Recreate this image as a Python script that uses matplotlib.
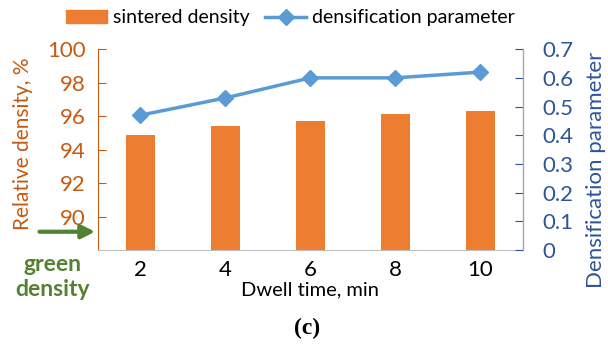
import numpy as np
import matplotlib.pyplot as plt
from matplotlib.lines import Line2D
from matplotlib.patches import Patch

dwell = ["2", "4", "6", "8", "10"]
sintered_density = [94.9, 95.4, 95.7, 96.1, 96.3]
densification = [0.47, 0.53, 0.60, 0.60, 0.62]
green_density = 89.1

orange = "#ED7D31"
orange_txt = "#C55A11"
blue_line = "#5B9BD5"
blue_txt = "#2F5597"
green = "#548235"

plt.rcParams["font.family"] = ["Lato", "DejaVu Sans"]

fig = plt.figure(figsize=(6.08, 3.46), dpi=100)
ax = fig.add_axes([0.161, 0.277, 0.699, 0.581])
x = np.arange(len(dwell))

ax.bar(x, sintered_density, width=0.34, color=orange, zorder=2)
ax.set_ylim(88, 100)
ax.set_yticks([90, 92, 94, 96, 98, 100])
ax.set_xlim(-0.5, 4.5)
ax.set_xticks(x)
ax.set_xticklabels(dwell)
ax.tick_params(axis="x", length=0, labelsize=16, pad=7)
ax.tick_params(axis="y", direction="in", length=6, colors=orange_txt,
               labelsize=16, pad=9)
ax.set_ylabel("Relative density, %", color=orange_txt, fontsize=15)
ax.yaxis.set_label_coords(-0.152, 0.527)
ax.set_xlabel("Dwell time, min", fontsize=14.5, labelpad=1)
ax.spines["top"].set_visible(False)
ax.spines["left"].set_color(orange_txt)
ax.spines["bottom"].set_color("#BFBFBF")

ax2 = ax.twinx()
ax2.plot(x, densification, color=blue_line, lw=2.5, marker="D", ms=8, zorder=3)
ax2.set_ylim(0, 0.7)
ax2.set_yticks(np.arange(0, 0.71, 0.1))
ax2.set_yticklabels(["0", "0.1", "0.2", "0.3", "0.4", "0.5", "0.6", "0.7"])
ax2.tick_params(axis="y", direction="in", length=6, colors=blue_txt,
                labelsize=16, pad=14)
ax2.set_ylabel("Densification parameter", color=blue_txt, fontsize=16)
ax2.yaxis.set_label_coords(1.148, 0.40)
ax2.spines["top"].set_visible(False)
ax2.spines["left"].set_visible(False)
ax2.spines["bottom"].set_visible(False)
ax2.spines["right"].set_color("#8FAADC")

# green density arrow
ax.annotate("", xy=(-0.5, green_density), xytext=(-1.22, green_density),
            xycoords="data", textcoords="data", annotation_clip=False,
            arrowprops=dict(arrowstyle="-|>,head_length=0.8,head_width=0.4",
                            color=green, lw=3))
fig.text(0.086, 0.200, "green\ndensity", color=green, fontsize=16.5,
         fontweight="bold", ha="center", va="center", linespacing=1.2)

handles = [Patch(color=orange, label="sintered density"),
           Line2D([], [], color=blue_line, lw=2.5, marker="D", ms=8,
                  label="densification parameter")]
fig.legend(handles=handles, loc="center", bbox_to_anchor=(0.478, 0.948),
           ncol=2, frameon=False, fontsize=14, handlelength=2.1,
           handletextpad=0.3, columnspacing=0.8)

fig.text(0.505, 0.052, "(c)", fontsize=17, fontweight="bold",
         family="Liberation Serif", ha="center", va="center")

fig.savefig("out.png", dpi=100)
